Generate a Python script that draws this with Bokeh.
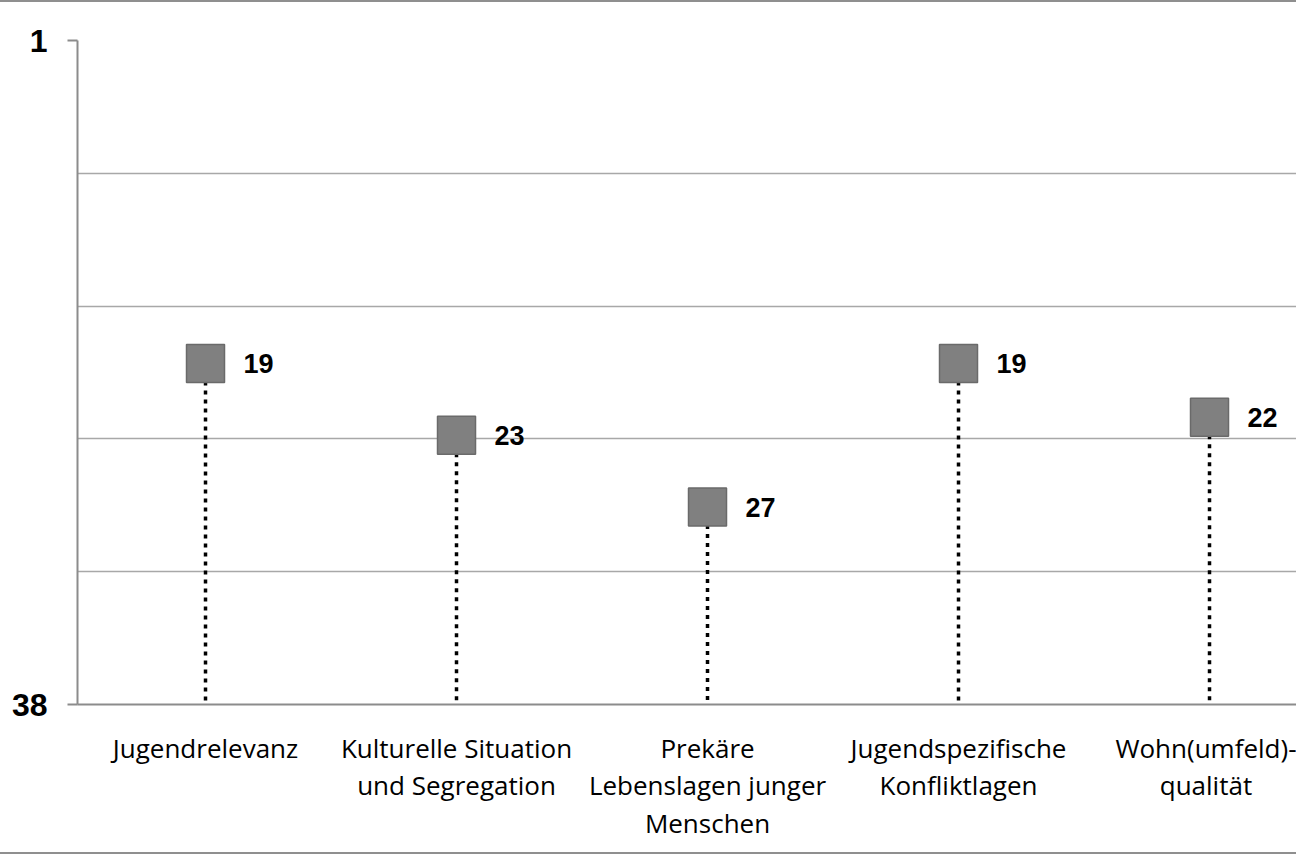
import numpy as np
from bokeh.plotting import figure
from bokeh.models import Range1d, FixedTicker
from bokeh.core.properties import value
from bokeh.embed import file_html
from bokeh.resources import INLINE

# ---- data ----
categories = [
    "Jugendrelevanz",
    "Kulturelle Situation\nund Segregation",
    "Prekäre\nLebenslagen junger\nMenschen",
    "Jugendspezifische\nKonfliktlagen",
    "Wohn(umfeld)-\nqualität",
]
ranks = [19, 23, 27, 19, 22]
y_top = 1
y_bottom = 38
y_tick_labels = ["1", "38"]

# ---- layout ----
W, H = 1296, 854
ML, MB, MT, MR = 77, 152, 38, 0
frame_w = W - ML - MR
cat_px = 251.0
x_start = -0.51

p = figure(width=W, height=H, output_backend="svg", toolbar_location=None,
           x_range=Range1d(x_start, x_start + frame_w / cat_px),
           y_range=Range1d(y_bottom, y_top),
           min_border_left=ML, min_border_bottom=MB, min_border_top=MT,
           min_border_right=MR)
p.outline_line_color = None
p.background_fill_color = "white"
p.border_fill_color = "white"
p.styles = {"border-bottom": "2px solid #8f8f8f", "border-top": "2px solid #8f8f8f"}

# y axis
p.yaxis.ticker = FixedTicker(ticks=[y_top, y_bottom])
p.yaxis.major_label_overrides = {y_top: y_tick_labels[0], y_bottom: y_tick_labels[1]}
p.yaxis.major_label_text_font = "Liberation Sans"
p.yaxis.major_label_text_font_style = "bold"
p.yaxis.major_label_text_font_size = "32px"
p.yaxis.major_label_text_color = "black"
p.yaxis.major_tick_out = 10
p.yaxis.major_tick_in = 0
p.yaxis.major_tick_line_color = "#8c8c8c"
p.yaxis.major_tick_line_width = 2
p.yaxis.axis_line_color = "#8c8c8c"
p.yaxis.axis_line_width = 2
p.yaxis.minor_tick_line_color = None
p.yaxis.major_label_standoff = 20

# x axis with multi-line category labels
idx = list(range(len(categories)))
p.xaxis.ticker = FixedTicker(ticks=idx)
p.xaxis.major_label_overrides = {i: c for i, c in zip(idx, categories)}
p.xaxis.major_label_text_font = "Open Sans"
p.xaxis.major_label_text_font_size = "26px"
p.xaxis.major_label_text_color = "black"
p.xaxis.major_label_text_line_height = 1.045
p.xaxis.major_label_text_align = "center"
p.xaxis.major_label_standoff = 25
p.xaxis.major_tick_line_color = None
p.xaxis.major_tick_out = 0
p.xaxis.major_tick_in = 0
p.xaxis.minor_tick_line_color = None
p.xaxis.axis_line_color = "#8c8c8c"
p.xaxis.axis_line_width = 2

# grid
p.xgrid.grid_line_color = None
p.ygrid.ticker = FixedTicker(ticks=list(np.linspace(y_top, y_bottom, 6)[:-1]))
p.ygrid.grid_line_color = "#a8a8a8"
p.ygrid.grid_line_width = 1.5

# dotted stems
p.segment(x0=idx, y0=ranks, x1=idx, y1=[y_bottom] * len(idx),
          line_color="black", line_width=3.5, line_dash="4 5")

# squares
p.scatter(x=idx, y=ranks, marker="square", size=38,
          fill_color="#808080", line_color="#6a6a6a", line_width=1.5)

# value labels
p.text(x=idx, y=ranks, text=[str(r) for r in ranks], x_offset=38,
       text_baseline="middle", text_align="left",
       text_font=value("Liberation Sans"), text_font_style="bold",
       text_font_size="27px", text_color="black")

open("out.html", "w").write(file_html(p, INLINE))
